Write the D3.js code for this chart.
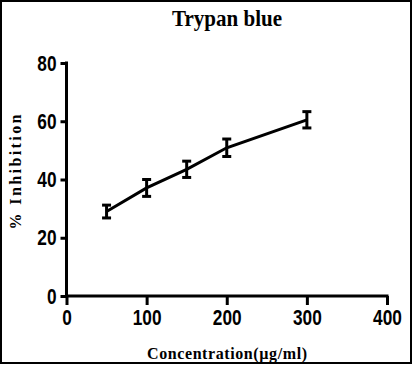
<!DOCTYPE html>
<html><head><meta charset="utf-8">
<script src="https://cdn.jsdelivr.net/npm/d3@7"></script>
<style>body{margin:0;background:#fff}</style>
</head><body>
<svg id="c" width="415" height="366"></svg>
<script>
const concentrations = [50, 100, 150, 200, 300];
const inhibition = [29.0, 37.1, 43.5, 50.9, 60.5];
const errors = [2.2, 2.9, 2.8, 3.0, 2.8];
const xTicks = [0, 100, 200, 300, 400];
const yTicks = [0, 20, 40, 60, 80];
const title = "Trypan blue";
const xLabel = "Concentration(\u00b5g/ml)";
const yLabel = "% Inhibition";

const svg = d3.select("#c");
svg.append("rect").attr("x", 1).attr("y", 1).attr("width", 410).attr("height", 362)
  .attr("fill", "none").attr("stroke", "#000").attr("stroke-width", 2);

const x = d3.scaleLinear().domain([0, 400]).range([66.5, 387]);
const y = d3.scaleLinear().domain([0, 80]).range([296, 63]);

const sans = "'Liberation Sans', Arial, sans-serif";

const gx = svg.append("g").attr("transform", "translate(0,296)")
  .call(d3.axisBottom(x).tickValues(xTicks).tickSize(9).tickPadding(4).tickSizeOuter(0));
const gy = svg.append("g").attr("transform", "translate(66.5,0)")
  .call(d3.axisLeft(y).tickValues(yTicks).tickSize(6).tickPadding(4).tickSizeOuter(0));
[gx, gy].forEach(g => {
  g.select(".domain").attr("stroke", "#000").attr("stroke-width", 3);
  g.selectAll(".tick line").attr("stroke", "#000").attr("stroke-width", 3);
  g.selectAll(".tick text").attr("fill", "#000")
    .style("font-family", sans).style("font-weight", "bold").style("font-size", "22px")
    .attr("textLength", function() { return 9.6 * this.textContent.length; })
    .attr("lengthAdjust", "spacingAndGlyphs");
});
gx.select(".domain").attr("d", `M${x(0)-1.5},0H${x(400)+1.5}`);
gy.select(".domain").attr("d", `M0,${y(80)-1.5}V${y(0)+1.5}`);
gx.selectAll(".tick text").attr("dy", "0.72em");

const pts = concentrations.map((c, i) => ({c, v: inhibition[i], e: errors[i]}));

svg.append("path").datum(pts)
  .attr("fill", "none").attr("stroke", "#000").attr("stroke-width", 3)
  .attr("d", d3.line().x(d => x(d.c)).y(d => y(d.v)));

const eb = svg.append("g").selectAll("g").data(pts).join("g");
eb.append("line").attr("x1", d => x(d.c)).attr("x2", d => x(d.c))
  .attr("y1", d => y(d.v + d.e)).attr("y2", d => y(d.v - d.e))
  .attr("stroke", "#000").attr("stroke-width", 3);
["+", "-"].forEach(s => {
  eb.append("line").attr("x1", d => x(d.c) - 4.5).attr("x2", d => x(d.c) + 4.5)
    .attr("y1", d => y(s === "+" ? d.v + d.e : d.v - d.e))
    .attr("y2", d => y(s === "+" ? d.v + d.e : d.v - d.e))
    .attr("stroke", "#000").attr("stroke-width", 3);
});

const serif = "'Liberation Serif', 'Times New Roman', serif";
svg.append("text").attr("x", 227).attr("y", 26).attr("text-anchor", "middle")
  .style("font-family", serif).style("font-weight", "bold").style("font-size", "23px")
  .attr("textLength", 110).attr("lengthAdjust", "spacingAndGlyphs")
  .text(title);
svg.append("text").attr("x", 227).attr("y", 359).attr("text-anchor", "middle")
  .style("font-family", serif).style("font-weight", "bold").style("font-size", "16px")
  .attr("textLength", 160).attr("lengthAdjust", "spacing")
  .text(xLabel);
svg.append("text").attr("transform", "translate(21,172) rotate(-90)").attr("text-anchor", "middle")
  .style("font-family", serif).style("font-weight", "600").style("font-size", "16px")
  .attr("textLength", 115).attr("lengthAdjust", "spacing")
  .text(yLabel);
</script>
</body></html>
